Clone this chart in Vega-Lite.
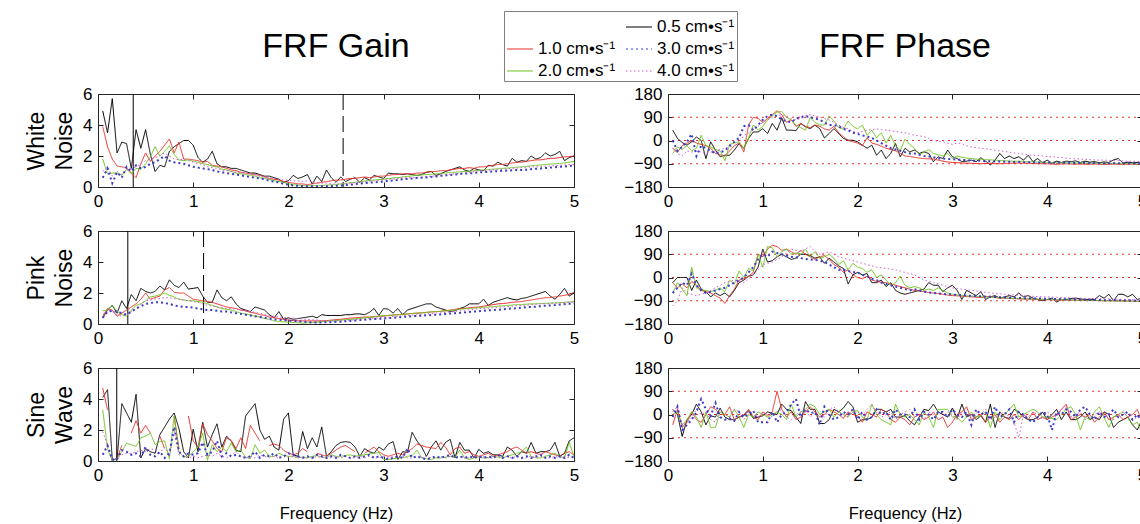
{
"$schema":"https://vega.github.io/schema/vega-lite/v6.json",
"padding":{"left":25,"top":10,"right":0,"bottom":0},
"background":"white",
"config":{
 "font":"Liberation Sans",
 "view":{"stroke":"#262626","strokeWidth":1},
 "axis":{"grid":false,"domain":false,"labelFontSize":17,"labelColor":"#000","tickColor":"#262626","tickSize":-5,"labelPadding":11,"titleFontWeight":"normal","titleColor":"#000","titleFontSize":23,"titleLineHeight":28,"labelFlush":false,"titlePadding":6},
 "axisX":{"titleFontSize":16.5,"titlePadding":22},
 "title":{"fontSize":34,"fontWeight":"normal","color":"#000"}
},
"datasets":{
"wg":[
{"f":0.05,"k":4.9,"r":3.9,"g":1.8,"u":0.6,"m":1.0},
{"f":0.1,"k":3.5,"r":2.6,"g":0.85,"u":1.2,"m":1.3},
{"f":0.15,"k":5.7,"r":1.8,"g":0.9,"u":0.25,"m":0.7},
{"f":0.2,"k":2.2,"r":1.35,"g":0.9,"u":0.95,"m":1.0},
{"f":0.25,"k":2.9,"r":1.3,"g":0.75,"u":0.6,"m":0.8},
{"f":0.3,"k":2.8,"r":1.25,"g":1.15,"u":1.3,"m":1.1},
{"f":0.35,"k":1.2,"r":0.9,"g":0.85,"u":1.0,"m":1.2},
{"f":0.4,"k":3.7,"r":0.6,"g":1.2,"u":1.4,"m":1.3},
{"f":0.45,"k":2.5,"r":1.5,"g":1.15,"u":1.2,"m":1.5},
{"f":0.5,"k":3.7,"r":2.2,"g":1.5,"u":1.3,"m":1.7},
{"f":0.55,"k":2.1,"r":1.65,"g":1.95,"u":1.5,"m":1.8},
{"f":0.6,"k":1.0,"r":2.0,"g":2.6,"u":1.6,"m":1.9},
{"f":0.65,"k":1.4,"r":2.3,"g":2.0,"u":1.8,"m":2.0},
{"f":0.7,"k":1.3,"r":2.7,"g":2.3,"u":2.0,"m":2.2},
{"f":0.75,"k":2.3,"r":3.1,"g":2.65,"u":1.7,"m":2.0},
{"f":0.8,"k":2.6,"r":2.2,"g":2.1,"u":1.6,"m":1.8},
{"f":0.85,"k":2.8,"r":2.9,"g":1.75,"u":1.55,"m":1.75},
{"f":0.9,"k":3.0,"r":1.8,"g":1.7,"u":1.5,"m":1.8},
{"f":0.95,"k":3.0,"r":1.8,"g":1.75,"u":1.4,"m":1.7},
{"f":1,"k":2.7,"r":1.75,"g":1.65,"u":1.3,"m":1.6},
{"f":1.05,"k":1.9,"r":1.7,"g":1.6,"u":1.25,"m":1.5},
{"f":1.1,"k":1.6,"r":1.6,"g":1.5,"u":1.2,"m":1.45},
{"f":1.15,"k":1.8,"r":1.65,"g":1.45,"u":1.15,"m":1.3},
{"f":1.2,"k":2.3,"r":1.4,"g":1.35,"u":1.1,"m":1.25},
{"f":1.25,"k":1.5,"r":1.35,"g":1.3,"u":1.0,"m":1.2},
{"f":1.3,"k":1.3,"r":1.3,"g":1.15,"u":0.95,"m":1.1},
{"f":1.35,"k":1.3,"r":1.2,"g":1.1,"u":0.9,"m":1.05},
{"f":1.4,"k":1.2,"r":1.1,"g":1.0,"u":0.85,"m":1.0},
{"f":1.45,"k":1.2,"r":1.05,"g":0.9,"u":0.8,"m":0.95},
{"f":1.5,"k":1.1,"r":0.95,"g":0.85,"u":0.75,"m":0.9},
{"f":1.55,"k":1.0,"r":0.9,"g":0.8,"u":0.7,"m":0.9},
{"f":1.6,"k":0.9,"r":0.85,"g":0.75,"u":0.65,"m":0.85},
{"f":1.65,"k":0.9,"r":0.8,"g":0.7,"u":0.6,"m":0.8},
{"f":1.7,"k":0.8,"r":0.75,"g":0.6,"u":0.55,"m":0.7},
{"f":1.75,"k":0.7,"r":0.65,"g":0.55,"u":0.5,"m":0.65},
{"f":1.8,"k":0.7,"r":0.55,"g":0.5,"u":0.4,"m":0.6},
{"f":1.85,"k":0.6,"r":0.5,"g":0.4,"u":0.35,"m":0.55},
{"f":1.9,"k":0.5,"r":0.45,"g":0.35,"u":0.3,"m":0.5},
{"f":1.95,"k":0.3,"r":0.35,"g":0.3,"u":0.2,"m":0.45},
{"f":2,"k":0.4,"r":0.3,"g":0.2,"u":0.15,"m":0.45},
{"f":2.05,"k":0.75,"r":0.25,"g":0.15,"u":0.1,"m":0.4},
{"f":2.1,"k":0.55,"r":0.2,"g":0.12,"u":0.08,"m":0.4},
{"f":2.15,"k":0.65,"r":0.2,"g":0.1,"u":0.05,"m":0.35},
{"f":2.2,"k":0.8,"r":0.15,"g":0.08,"u":0.05,"m":0.4},
{"f":2.25,"k":0.2,"r":0.2,"g":0.08,"u":0.05,"m":0.35},
{"f":2.3,"k":0.7,"r":0.25,"g":0.1,"u":0.04,"m":0.3},
{"f":2.35,"k":0.35,"r":0.3,"g":0.1,"u":0.05,"m":0.25},
{"f":2.4,"k":1.1,"r":0.35,"g":0.12,"u":0.05,"m":0.25},
{"f":2.45,"k":0.6,"r":0.4,"g":0.15,"u":0.06,"m":0.2},
{"f":2.5,"k":0.3,"r":0.45,"g":0.15,"u":0.08,"m":0.2},
{"f":2.55,"k":0.65,"r":0.45,"g":0.2,"u":0.1,"m":0.2},
{"f":2.6,"k":0.35,"r":0.5,"g":0.22,"u":0.12,"m":0.22},
{"f":2.65,"k":0.5,"r":0.55,"g":0.28,"u":0.15,"m":0.25},
{"f":2.7,"k":0.6,"r":0.55,"g":0.3,"u":0.18,"m":0.28},
{"f":2.75,"k":0.3,"r":0.6,"g":0.35,"u":0.22,"m":0.3},
{"f":2.8,"k":0.6,"r":0.65,"g":0.38,"u":0.25,"m":0.35},
{"f":2.85,"k":0.45,"r":0.6,"g":0.42,"u":0.28,"m":0.38},
{"f":2.9,"k":0.75,"r":0.65,"g":0.45,"u":0.3,"m":0.4},
{"f":2.95,"k":0.65,"r":0.7,"g":0.48,"u":0.33,"m":0.42},
{"f":3,"k":0.55,"r":0.7,"g":0.5,"u":0.35,"m":0.45},
{"f":3.05,"k":0.9,"r":0.75,"g":0.55,"u":0.4,"m":0.5},
{"f":3.1,"k":0.85,"r":0.8,"g":0.58,"u":0.42,"m":0.52},
{"f":3.15,"k":0.85,"r":0.8,"g":0.6,"u":0.45,"m":0.55},
{"f":3.2,"k":0.8,"r":0.85,"g":0.65,"u":0.5,"m":0.58},
{"f":3.25,"k":0.85,"r":0.85,"g":0.68,"u":0.52,"m":0.6},
{"f":3.3,"k":0.8,"r":0.85,"g":0.72,"u":0.55,"m":0.6},
{"f":3.35,"k":0.75,"r":0.9,"g":0.75,"u":0.58,"m":0.62},
{"f":3.4,"k":0.8,"r":0.9,"g":0.78,"u":0.6,"m":0.65},
{"f":3.45,"k":0.95,"r":0.95,"g":0.8,"u":0.62,"m":0.68},
{"f":3.5,"k":1.0,"r":1.0,"g":0.82,"u":0.65,"m":0.7},
{"f":3.55,"k":0.75,"r":1.0,"g":0.85,"u":0.68,"m":0.72},
{"f":3.6,"k":0.85,"r":1.05,"g":0.88,"u":0.72,"m":0.75},
{"f":3.65,"k":1.0,"r":1.05,"g":0.9,"u":0.75,"m":0.8},
{"f":3.7,"k":1.1,"r":1.1,"g":0.93,"u":0.78,"m":0.82},
{"f":3.75,"k":1.2,"r":1.15,"g":0.95,"u":0.8,"m":0.85},
{"f":3.8,"k":1.3,"r":1.2,"g":0.98,"u":0.85,"m":0.88},
{"f":3.85,"k":1.1,"r":1.2,"g":1.0,"u":0.86,"m":0.9},
{"f":3.9,"k":1.0,"r":1.25,"g":1.02,"u":0.88,"m":0.95},
{"f":3.95,"k":1.2,"r":1.2,"g":1.05,"u":0.9,"m":1.0},
{"f":4,"k":1.1,"r":1.3,"g":1.08,"u":0.95,"m":1.05},
{"f":4.05,"k":1.05,"r":1.3,"g":1.1,"u":0.96,"m":1.05},
{"f":4.1,"k":1.4,"r":1.35,"g":1.12,"u":0.98,"m":1.08},
{"f":4.15,"k":1.35,"r":1.4,"g":1.15,"u":1.0,"m":1.1},
{"f":4.2,"k":1.6,"r":1.45,"g":1.18,"u":1.02,"m":1.12},
{"f":4.25,"k":1.45,"r":1.45,"g":1.2,"u":1.05,"m":1.15},
{"f":4.3,"k":1.35,"r":1.5,"g":1.22,"u":1.06,"m":1.18},
{"f":4.35,"k":1.85,"r":1.55,"g":1.25,"u":1.08,"m":1.2},
{"f":4.4,"k":1.6,"r":1.6,"g":1.28,"u":1.1,"m":1.22},
{"f":4.45,"k":1.7,"r":1.6,"g":1.3,"u":1.1,"m":1.25},
{"f":4.5,"k":1.65,"r":1.65,"g":1.33,"u":1.12,"m":1.28},
{"f":4.55,"k":2.0,"r":1.7,"g":1.36,"u":1.15,"m":1.3},
{"f":4.6,"k":1.8,"r":1.75,"g":1.4,"u":1.18,"m":1.3},
{"f":4.65,"k":1.9,"r":1.75,"g":1.42,"u":1.2,"m":1.32},
{"f":4.7,"k":2.2,"r":1.8,"g":1.45,"u":1.22,"m":1.35},
{"f":4.75,"k":2.0,"r":1.85,"g":1.48,"u":1.25,"m":1.35},
{"f":4.8,"k":2.1,"r":1.85,"g":1.5,"u":1.28,"m":1.38},
{"f":4.85,"k":2.3,"r":1.9,"g":1.52,"u":1.3,"m":1.4},
{"f":4.9,"k":1.7,"r":1.95,"g":1.55,"u":1.32,"m":1.42},
{"f":4.95,"k":1.9,"r":1.95,"g":1.6,"u":1.35,"m":1.45},
{"f":5,"k":2.0,"r":2.0,"g":1.65,"u":1.4,"m":1.45}
],
"wp":[
{"f":0.05,"k":40,"r":-30,"g":-50,"u":0,"m":-30},
{"f":0.1,"k":8,"r":-45,"g":-25,"u":-40,"m":-50},
{"f":0.15,"k":-8,"r":-20,"g":-35,"u":-25,"m":-60},
{"f":0.2,"k":-18,"r":-10,"g":-20,"u":-5,"m":-40},
{"f":0.25,"k":-5,"r":0,"g":-40,"u":25,"m":-45},
{"f":0.3,"k":14,"r":-10,"g":-30,"u":-60,"m":-40},
{"f":0.35,"k":0,"r":-15,"g":20,"u":-20,"m":-45},
{"f":0.4,"k":-70,"r":-20,"g":-20,"u":-30,"m":-50},
{"f":0.45,"k":-5,"r":-30,"g":-25,"u":-40,"m":-45},
{"f":0.5,"k":-37,"r":-50,"g":-35,"u":-50,"m":-40},
{"f":0.55,"k":-63,"r":-55,"g":-40,"u":-45,"m":-35},
{"f":0.6,"k":-57,"r":-60,"g":-78,"u":-40,"m":-30},
{"f":0.65,"k":-57,"r":-40,"g":-15,"u":-20,"m":-25},
{"f":0.7,"k":-37,"r":-20,"g":-10,"u":-5,"m":-20},
{"f":0.75,"k":-12,"r":-10,"g":-5,"u":10,"m":-10},
{"f":0.8,"k":-30,"r":-45,"g":-30,"u":55,"m":20},
{"f":0.85,"k":8,"r":60,"g":10,"u":60,"m":30},
{"f":0.9,"k":33,"r":90,"g":60,"u":40,"m":40},
{"f":0.95,"k":33,"r":85,"g":40,"u":60,"m":55},
{"f":1,"k":46,"r":70,"g":55,"u":80,"m":70},
{"f":1.05,"k":27,"r":85,"g":80,"u":95,"m":80},
{"f":1.1,"k":66,"r":100,"g":95,"u":100,"m":90},
{"f":1.15,"k":40,"r":115,"g":110,"u":95,"m":95},
{"f":1.2,"k":87,"r":100,"g":112,"u":80,"m":100},
{"f":1.25,"k":40,"r":70,"g":90,"u":75,"m":95},
{"f":1.3,"k":40,"r":80,"g":80,"u":70,"m":85},
{"f":1.35,"k":38,"r":55,"g":60,"u":85,"m":80},
{"f":1.4,"k":66,"r":65,"g":50,"u":90,"m":85},
{"f":1.45,"k":53,"r":55,"g":40,"u":95,"m":95},
{"f":1.5,"k":46,"r":50,"g":90,"u":90,"m":100},
{"f":1.55,"k":59,"r":60,"g":70,"u":85,"m":95},
{"f":1.6,"k":46,"r":55,"g":60,"u":80,"m":90},
{"f":1.65,"k":10,"r":45,"g":60,"u":70,"m":85},
{"f":1.7,"k":27,"r":40,"g":95,"u":60,"m":80},
{"f":1.75,"k":46,"r":55,"g":75,"u":60,"m":70},
{"f":1.8,"k":27,"r":30,"g":50,"u":55,"m":60},
{"f":1.85,"k":8,"r":15,"g":45,"u":45,"m":50},
{"f":1.9,"k":1,"r":0,"g":75,"u":40,"m":45},
{"f":1.95,"k":1,"r":-5,"g":55,"u":30,"m":35},
{"f":2,"k":-5,"r":-10,"g":45,"u":25,"m":30},
{"f":2.05,"k":-18,"r":-20,"g":60,"u":20,"m":35},
{"f":2.1,"k":-30,"r":10,"g":20,"u":15,"m":40},
{"f":2.15,"k":-18,"r":-10,"g":40,"u":10,"m":42},
{"f":2.2,"k":-57,"r":-15,"g":10,"u":0,"m":45},
{"f":2.25,"k":-37,"r":-22,"g":30,"u":-10,"m":42},
{"f":2.3,"k":-70,"r":-30,"g":-10,"u":-20,"m":40},
{"f":2.35,"k":-50,"r":-35,"g":20,"u":-30,"m":38},
{"f":2.4,"k":-12,"r":-40,"g":-20,"u":-35,"m":35},
{"f":2.45,"k":-63,"r":-50,"g":-40,"u":-40,"m":32},
{"f":2.5,"k":-30,"r":-60,"g":5,"u":-45,"m":30},
{"f":2.55,"k":-44,"r":-62,"g":-15,"u":-50,"m":25},
{"f":2.6,"k":-37,"r":-65,"g":-30,"u":-50,"m":20},
{"f":2.65,"k":-50,"r":-68,"g":-55,"u":-55,"m":18},
{"f":2.7,"k":-44,"r":-70,"g":-45,"u":-60,"m":15},
{"f":2.75,"k":-50,"r":-71,"g":-35,"u":-62,"m":8},
{"f":2.8,"k":-82,"r":-72,"g":-50,"u":-65,"m":0},
{"f":2.85,"k":-63,"r":-76,"g":-55,"u":-70,"m":-3},
{"f":2.9,"k":-70,"r":-80,"g":-60,"u":-70,"m":-5},
{"f":2.95,"k":-37,"r":-83,"g":-50,"u":-72,"m":-10},
{"f":3,"k":-63,"r":-85,"g":-70,"u":-72,"m":-15},
{"f":3.05,"k":-70,"r":-86,"g":-60,"u":-74,"m":-10},
{"f":3.1,"k":-82,"r":-87,"g":-65,"u":-75,"m":-12},
{"f":3.15,"k":-80,"r":-88,"g":-68,"u":-76,"m":-20},
{"f":3.2,"k":-76,"r":-88,"g":-70,"u":-78,"m":-25},
{"f":3.25,"k":-82,"r":-89,"g":-72,"u":-78,"m":-28},
{"f":3.3,"k":-67,"r":-90,"g":-72,"u":-79,"m":-30},
{"f":3.35,"k":-80,"r":-89,"g":-74,"u":-80,"m":-32},
{"f":3.4,"k":-95,"r":-88,"g":-75,"u":-80,"m":-35},
{"f":3.45,"k":-76,"r":-90,"g":-76,"u":-81,"m":-38},
{"f":3.5,"k":-50,"r":-90,"g":-78,"u":-81,"m":-40},
{"f":3.55,"k":-70,"r":-89,"g":-78,"u":-82,"m":-42},
{"f":3.6,"k":-60,"r":-88,"g":-80,"u":-82,"m":-45},
{"f":3.65,"k":-70,"r":-88,"g":-80,"u":-83,"m":-48},
{"f":3.7,"k":-63,"r":-87,"g":-80,"u":-83,"m":-50},
{"f":3.75,"k":-76,"r":-88,"g":-81,"u":-84,"m":-53},
{"f":3.8,"k":-57,"r":-88,"g":-82,"u":-84,"m":-55},
{"f":3.85,"k":-82,"r":-89,"g":-83,"u":-84,"m":-57},
{"f":3.9,"k":-70,"r":-90,"g":-84,"u":-85,"m":-58},
{"f":3.95,"k":-86,"r":-90,"g":-84,"u":-85,"m":-60},
{"f":4,"k":-76,"r":-90,"g":-85,"u":-85,"m":-62},
{"f":4.05,"k":-88,"r":-91,"g":-85,"u":-86,"m":-63},
{"f":4.1,"k":-80,"r":-92,"g":-86,"u":-86,"m":-65},
{"f":4.15,"k":-85,"r":-91,"g":-86,"u":-86,"m":-66},
{"f":4.2,"k":-80,"r":-90,"g":-86,"u":-86,"m":-68},
{"f":4.25,"k":-82,"r":-91,"g":-87,"u":-87,"m":-70},
{"f":4.3,"k":-79,"r":-92,"g":-87,"u":-87,"m":-71},
{"f":4.35,"k":-85,"r":-91,"g":-87,"u":-87,"m":-72},
{"f":4.4,"k":-80,"r":-92,"g":-88,"u":-87,"m":-73},
{"f":4.45,"k":-84,"r":-92,"g":-87,"u":-87,"m":-74},
{"f":4.5,"k":-82,"r":-91,"g":-88,"u":-87,"m":-75},
{"f":4.55,"k":-86,"r":-92,"g":-88,"u":-88,"m":-76},
{"f":4.6,"k":-83,"r":-93,"g":-88,"u":-88,"m":-76},
{"f":4.65,"k":-85,"r":-92,"g":-89,"u":-88,"m":-77},
{"f":4.7,"k":-75,"r":-91,"g":-88,"u":-88,"m":-78},
{"f":4.75,"k":-70,"r":-92,"g":-89,"u":-88,"m":-78},
{"f":4.8,"k":-88,"r":-93,"g":-90,"u":-88,"m":-79},
{"f":4.85,"k":-84,"r":-92,"g":-89,"u":-89,"m":-80},
{"f":4.9,"k":-86,"r":-92,"g":-90,"u":-89,"m":-80},
{"f":4.95,"k":-85,"r":-93,"g":-90,"u":-89,"m":-81},
{"f":5,"k":-88,"r":-92,"g":-90,"u":-89,"m":-82}
],
"pg":[
{"f":0.05,"k":0.4,"r":0.5,"g":0.85,"u":0.4,"m":0.6},
{"f":0.1,"k":0.9,"r":1.0,"g":0.9,"u":0.8,"m":0.9},
{"f":0.15,"k":1.2,"r":0.9,"g":1.2,"u":0.85,"m":0.8},
{"f":0.2,"k":0.7,"r":0.5,"g":0.8,"u":0.8,"m":0.6},
{"f":0.25,"k":1.5,"r":0.7,"g":0.6,"u":0.7,"m":0.5},
{"f":0.3,"k":1.0,"r":0.9,"g":0.5,"u":0.6,"m":0.6},
{"f":0.35,"k":1.9,"r":1.1,"g":0.9,"u":0.8,"m":0.8},
{"f":0.4,"k":1.5,"r":1.3,"g":1.2,"u":1.0,"m":1.0},
{"f":0.45,"k":2.3,"r":1.6,"g":1.3,"u":1.15,"m":1.3},
{"f":0.5,"k":2.1,"r":2.0,"g":1.5,"u":1.3,"m":1.5},
{"f":0.55,"k":2.0,"r":1.6,"g":1.75,"u":1.35,"m":1.55},
{"f":0.6,"k":2.1,"r":1.7,"g":1.8,"u":1.4,"m":1.6},
{"f":0.65,"k":2.45,"r":1.8,"g":1.9,"u":1.4,"m":1.65},
{"f":0.7,"k":2.2,"r":2.2,"g":2.0,"u":1.35,"m":1.7},
{"f":0.75,"k":2.85,"r":2.35,"g":1.85,"u":1.3,"m":1.7},
{"f":0.8,"k":2.5,"r":2.05,"g":1.75,"u":1.2,"m":1.65},
{"f":0.85,"k":2.35,"r":2.0,"g":1.6,"u":1.15,"m":1.6},
{"f":0.9,"k":2.7,"r":2.0,"g":1.55,"u":1.1,"m":1.55},
{"f":0.95,"k":2.25,"r":1.8,"g":1.5,"u":1.1,"m":1.5},
{"f":1,"k":2.3,"r":1.6,"g":1.5,"u":1.05,"m":1.45},
{"f":1.05,"k":2.35,"r":1.55,"g":1.45,"u":1.0,"m":1.4},
{"f":1.1,"k":1.8,"r":1.5,"g":1.4,"u":0.95,"m":1.3},
{"f":1.15,"k":1.4,"r":1.45,"g":1.3,"u":0.9,"m":1.2},
{"f":1.2,"k":1.4,"r":1.4,"g":1.2,"u":0.9,"m":1.15},
{"f":1.25,"k":2.2,"r":1.3,"g":1.1,"u":0.85,"m":1.1},
{"f":1.3,"k":1.7,"r":1.2,"g":1.0,"u":0.8,"m":1.05},
{"f":1.35,"k":1.5,"r":1.1,"g":0.95,"u":0.8,"m":1.0},
{"f":1.4,"k":1.75,"r":1.05,"g":0.9,"u":0.75,"m":1.0},
{"f":1.45,"k":1.3,"r":1.0,"g":0.8,"u":0.7,"m":0.95},
{"f":1.5,"k":1.0,"r":0.9,"g":0.7,"u":0.65,"m":0.9},
{"f":1.55,"k":0.9,"r":0.85,"g":0.65,"u":0.6,"m":0.85},
{"f":1.6,"k":0.8,"r":0.75,"g":0.6,"u":0.55,"m":0.8},
{"f":1.65,"k":1.1,"r":0.7,"g":0.5,"u":0.5,"m":0.75},
{"f":1.7,"k":1.0,"r":0.6,"g":0.45,"u":0.45,"m":0.7},
{"f":1.75,"k":0.9,"r":0.55,"g":0.35,"u":0.4,"m":0.6},
{"f":1.8,"k":0.6,"r":0.45,"g":0.3,"u":0.35,"m":0.55},
{"f":1.85,"k":0.4,"r":0.4,"g":0.2,"u":0.3,"m":0.5},
{"f":1.9,"k":0.8,"r":0.35,"g":0.15,"u":0.28,"m":0.45},
{"f":1.95,"k":0.3,"r":0.3,"g":0.15,"u":0.25,"m":0.42},
{"f":2,"k":0.4,"r":0.25,"g":0.12,"u":0.22,"m":0.4},
{"f":2.05,"k":0.3,"r":0.22,"g":0.1,"u":0.2,"m":0.38},
{"f":2.1,"k":0.35,"r":0.2,"g":0.08,"u":0.18,"m":0.35},
{"f":2.15,"k":0.4,"r":0.2,"g":0.05,"u":0.15,"m":0.32},
{"f":2.2,"k":0.45,"r":0.2,"g":0.08,"u":0.12,"m":0.3},
{"f":2.25,"k":0.5,"r":0.2,"g":0.1,"u":0.1,"m":0.28},
{"f":2.3,"k":0.4,"r":0.2,"g":0.12,"u":0.1,"m":0.25},
{"f":2.35,"k":0.6,"r":0.2,"g":0.15,"u":0.1,"m":0.22},
{"f":2.4,"k":0.55,"r":0.22,"g":0.18,"u":0.12,"m":0.2},
{"f":2.45,"k":0.55,"r":0.25,"g":0.2,"u":0.12,"m":0.2},
{"f":2.5,"k":0.55,"r":0.28,"g":0.22,"u":0.14,"m":0.2},
{"f":2.55,"k":0.55,"r":0.3,"g":0.25,"u":0.15,"m":0.2},
{"f":2.6,"k":0.6,"r":0.35,"g":0.28,"u":0.18,"m":0.22},
{"f":2.65,"k":0.6,"r":0.38,"g":0.3,"u":0.2,"m":0.25},
{"f":2.7,"k":0.65,"r":0.4,"g":0.33,"u":0.22,"m":0.28},
{"f":2.75,"k":0.65,"r":0.42,"g":0.35,"u":0.25,"m":0.3},
{"f":2.8,"k":0.6,"r":0.45,"g":0.4,"u":0.28,"m":0.32},
{"f":2.85,"k":0.75,"r":0.45,"g":0.42,"u":0.3,"m":0.35},
{"f":2.9,"k":1.0,"r":0.48,"g":0.45,"u":0.32,"m":0.38},
{"f":2.95,"k":0.55,"r":0.5,"g":0.5,"u":0.33,"m":0.4},
{"f":3,"k":1.0,"r":0.5,"g":0.55,"u":0.35,"m":0.42},
{"f":3.05,"k":0.95,"r":0.55,"g":0.55,"u":0.38,"m":0.45},
{"f":3.1,"k":0.7,"r":0.58,"g":0.58,"u":0.4,"m":0.48},
{"f":3.15,"k":1.0,"r":0.6,"g":0.6,"u":0.42,"m":0.5},
{"f":3.2,"k":0.6,"r":0.62,"g":0.62,"u":0.45,"m":0.52},
{"f":3.25,"k":0.9,"r":0.65,"g":0.65,"u":0.48,"m":0.55},
{"f":3.3,"k":1.0,"r":0.68,"g":0.68,"u":0.5,"m":0.58},
{"f":3.35,"k":1.1,"r":0.7,"g":0.7,"u":0.52,"m":0.6},
{"f":3.4,"k":1.2,"r":0.72,"g":0.72,"u":0.54,"m":0.62},
{"f":3.45,"k":1.3,"r":0.75,"g":0.75,"u":0.56,"m":0.65},
{"f":3.5,"k":1.3,"r":0.78,"g":0.78,"u":0.58,"m":0.68},
{"f":3.55,"k":1.1,"r":0.8,"g":0.8,"u":0.6,"m":0.7},
{"f":3.6,"k":1.0,"r":0.82,"g":0.82,"u":0.62,"m":0.72},
{"f":3.65,"k":0.9,"r":0.85,"g":0.85,"u":0.65,"m":0.75},
{"f":3.7,"k":0.8,"r":0.9,"g":0.88,"u":0.68,"m":0.78},
{"f":3.75,"k":0.85,"r":0.95,"g":0.9,"u":0.7,"m":0.82},
{"f":3.8,"k":1.0,"r":1.0,"g":0.95,"u":0.72,"m":0.85},
{"f":3.85,"k":1.1,"r":1.0,"g":0.98,"u":0.75,"m":0.88},
{"f":3.9,"k":1.3,"r":1.05,"g":1.0,"u":0.78,"m":0.9},
{"f":3.95,"k":1.3,"r":1.08,"g":1.02,"u":0.8,"m":0.95},
{"f":4,"k":1.3,"r":1.1,"g":1.05,"u":0.82,"m":1.0},
{"f":4.05,"k":1.6,"r":1.15,"g":1.08,"u":0.85,"m":1.0},
{"f":4.1,"k":1.2,"r":1.2,"g":1.1,"u":0.88,"m":1.02},
{"f":4.15,"k":1.4,"r":1.25,"g":1.12,"u":0.9,"m":1.05},
{"f":4.2,"k":1.5,"r":1.3,"g":1.15,"u":0.92,"m":1.08},
{"f":4.25,"k":1.6,"r":1.32,"g":1.18,"u":0.95,"m":1.1},
{"f":4.3,"k":1.7,"r":1.35,"g":1.2,"u":0.98,"m":1.12},
{"f":4.35,"k":1.6,"r":1.4,"g":1.22,"u":1.0,"m":1.15},
{"f":4.4,"k":1.55,"r":1.42,"g":1.25,"u":1.02,"m":1.18},
{"f":4.45,"k":1.65,"r":1.45,"g":1.25,"u":1.05,"m":1.2},
{"f":4.5,"k":1.7,"r":1.5,"g":1.28,"u":1.08,"m":1.22},
{"f":4.55,"k":1.8,"r":1.55,"g":1.3,"u":1.1,"m":1.25},
{"f":4.6,"k":1.9,"r":1.6,"g":1.3,"u":1.12,"m":1.28},
{"f":4.65,"k":2.0,"r":1.65,"g":1.32,"u":1.15,"m":1.3},
{"f":4.7,"k":2.1,"r":1.7,"g":1.33,"u":1.18,"m":1.3},
{"f":4.75,"k":1.8,"r":1.7,"g":1.35,"u":1.2,"m":1.32},
{"f":4.8,"k":1.6,"r":1.75,"g":1.35,"u":1.22,"m":1.35},
{"f":4.85,"k":1.9,"r":1.8,"g":1.38,"u":1.25,"m":1.35},
{"f":4.9,"k":2.3,"r":1.85,"g":1.4,"u":1.28,"m":1.38},
{"f":4.95,"k":1.8,"r":1.9,"g":1.42,"u":1.3,"m":1.4},
{"f":5,"k":2.0,"r":2.05,"g":1.45,"u":1.32,"m":1.4}
],
"pp":[
{"f":0.05,"k":-20,"r":-20,"g":-60,"u":-60,"m":-110},
{"f":0.1,"k":0,"r":-40,"g":-20,"u":-40,"m":-90},
{"f":0.15,"k":0,"r":-25,"g":-45,"u":-20,"m":-40},
{"f":0.2,"k":0,"r":-40,"g":-70,"u":-30,"m":-60},
{"f":0.25,"k":-50,"r":-15,"g":40,"u":15,"m":-65},
{"f":0.3,"k":-10,"r":-30,"g":-40,"u":-30,"m":-70},
{"f":0.35,"k":-45,"r":-50,"g":-50,"u":-50,"m":-65},
{"f":0.4,"k":-55,"r":-55,"g":-50,"u":-60,"m":-60},
{"f":0.45,"k":-75,"r":-60,"g":-55,"u":-55,"m":-50},
{"f":0.5,"k":-60,"r":-70,"g":-50,"u":-50,"m":-40},
{"f":0.55,"k":-70,"r":-80,"g":-40,"u":-45,"m":-30},
{"f":0.6,"k":-60,"r":-100,"g":-55,"u":-40,"m":-20},
{"f":0.65,"k":-75,"r":-70,"g":-10,"u":-30,"m":-15},
{"f":0.7,"k":-50,"r":-45,"g":-25,"u":-20,"m":-10},
{"f":0.75,"k":-20,"r":-10,"g":25,"u":-10,"m":-15},
{"f":0.8,"k":-10,"r":-5,"g":0,"u":0,"m":-20},
{"f":0.85,"k":5,"r":5,"g":35,"u":20,"m":-5},
{"f":0.9,"k":10,"r":20,"g":25,"u":40,"m":10},
{"f":0.95,"k":40,"r":90,"g":90,"u":70,"m":30},
{"f":1,"k":110,"r":80,"g":40,"u":90,"m":50},
{"f":1.05,"k":60,"r":110,"g":120,"u":80,"m":55},
{"f":1.1,"k":65,"r":125,"g":115,"u":100,"m":60},
{"f":1.15,"k":80,"r":120,"g":80,"u":95,"m":70},
{"f":1.2,"k":90,"r":105,"g":100,"u":90,"m":80},
{"f":1.25,"k":80,"r":110,"g":110,"u":85,"m":95},
{"f":1.3,"k":70,"r":100,"g":90,"u":80,"m":110},
{"f":1.35,"k":75,"r":90,"g":95,"u":78,"m":105},
{"f":1.4,"k":90,"r":105,"g":90,"u":75,"m":100},
{"f":1.45,"k":90,"r":90,"g":110,"u":72,"m":110},
{"f":1.5,"k":85,"r":80,"g":80,"u":70,"m":120},
{"f":1.55,"k":75,"r":70,"g":100,"u":68,"m":100},
{"f":1.6,"k":80,"r":80,"g":75,"u":65,"m":90},
{"f":1.65,"k":55,"r":85,"g":80,"u":60,"m":95},
{"f":1.7,"k":75,"r":70,"g":90,"u":50,"m":100},
{"f":1.75,"k":60,"r":50,"g":75,"u":40,"m":90},
{"f":1.8,"k":45,"r":40,"g":50,"u":30,"m":80},
{"f":1.85,"k":35,"r":20,"g":65,"u":30,"m":75},
{"f":1.9,"k":-25,"r":30,"g":30,"u":25,"m":70},
{"f":1.95,"k":10,"r":10,"g":55,"u":20,"m":65},
{"f":2,"k":20,"r":0,"g":40,"u":20,"m":60},
{"f":2.05,"k":10,"r":-5,"g":35,"u":10,"m":55},
{"f":2.1,"k":15,"r":5,"g":20,"u":5,"m":50},
{"f":2.15,"k":-20,"r":-10,"g":30,"u":-5,"m":45},
{"f":2.2,"k":-20,"r":-15,"g":0,"u":-10,"m":40},
{"f":2.25,"k":-10,"r":-18,"g":10,"u":-20,"m":38},
{"f":2.3,"k":-35,"r":-20,"g":-10,"u":-25,"m":35},
{"f":2.35,"k":-20,"r":-25,"g":-30,"u":-30,"m":32},
{"f":2.4,"k":-50,"r":-30,"g":-20,"u":-35,"m":30},
{"f":2.45,"k":-60,"r":-35,"g":5,"u":-40,"m":25},
{"f":2.5,"k":-65,"r":-40,"g":-30,"u":-45,"m":20},
{"f":2.55,"k":-60,"r":-45,"g":-40,"u":-50,"m":15},
{"f":2.6,"k":-55,"r":-50,"g":-35,"u":-45,"m":10},
{"f":2.65,"k":-50,"r":-52,"g":-40,"u":-50,"m":0},
{"f":2.7,"k":-45,"r":-55,"g":-50,"u":-55,"m":-10},
{"f":2.75,"k":-20,"r":-58,"g":-45,"u":-58,"m":-15},
{"f":2.8,"k":-30,"r":-60,"g":-50,"u":-60,"m":-20},
{"f":2.85,"k":-30,"r":-62,"g":-40,"u":-62,"m":-25},
{"f":2.9,"k":-55,"r":-65,"g":-50,"u":-64,"m":-30},
{"f":2.95,"k":-40,"r":-68,"g":-60,"u":-65,"m":-35},
{"f":3,"k":-30,"r":-70,"g":-65,"u":-66,"m":-40},
{"f":3.05,"k":-50,"r":-71,"g":-67,"u":-67,"m":-42},
{"f":3.1,"k":-85,"r":-72,"g":-70,"u":-68,"m":-45},
{"f":3.15,"k":-50,"r":-74,"g":-71,"u":-70,"m":-48},
{"f":3.2,"k":-60,"r":-75,"g":-72,"u":-71,"m":-50},
{"f":3.25,"k":-70,"r":-76,"g":-73,"u":-72,"m":-52},
{"f":3.3,"k":-55,"r":-78,"g":-75,"u":-73,"m":-55},
{"f":3.35,"k":-85,"r":-75,"g":-75,"u":-74,"m":-58},
{"f":3.4,"k":-75,"r":-72,"g":-76,"u":-75,"m":-60},
{"f":3.45,"k":-70,"r":-78,"g":-77,"u":-75,"m":-62},
{"f":3.5,"k":-80,"r":-80,"g":-78,"u":-76,"m":-63},
{"f":3.55,"k":-75,"r":-80,"g":-79,"u":-77,"m":-65},
{"f":3.6,"k":-70,"r":-81,"g":-80,"u":-78,"m":-66},
{"f":3.65,"k":-75,"r":-82,"g":-80,"u":-78,"m":-68},
{"f":3.7,"k":-60,"r":-83,"g":-81,"u":-79,"m":-70},
{"f":3.75,"k":-75,"r":-84,"g":-82,"u":-80,"m":-71},
{"f":3.8,"k":-70,"r":-84,"g":-82,"u":-80,"m":-72},
{"f":3.85,"k":-80,"r":-85,"g":-83,"u":-81,"m":-73},
{"f":3.9,"k":-85,"r":-85,"g":-84,"u":-81,"m":-74},
{"f":3.95,"k":-90,"r":-86,"g":-84,"u":-82,"m":-75},
{"f":4,"k":-85,"r":-86,"g":-85,"u":-82,"m":-75},
{"f":4.05,"k":-80,"r":-86,"g":-85,"u":-83,"m":-76},
{"f":4.1,"k":-95,"r":-87,"g":-86,"u":-83,"m":-77},
{"f":4.15,"k":-85,"r":-87,"g":-86,"u":-84,"m":-78},
{"f":4.2,"k":-85,"r":-88,"g":-87,"u":-84,"m":-78},
{"f":4.25,"k":-82,"r":-88,"g":-87,"u":-85,"m":-79},
{"f":4.3,"k":-80,"r":-88,"g":-88,"u":-85,"m":-80},
{"f":4.35,"k":-83,"r":-88,"g":-88,"u":-86,"m":-80},
{"f":4.4,"k":-85,"r":-89,"g":-88,"u":-86,"m":-81},
{"f":4.45,"k":-84,"r":-89,"g":-89,"u":-87,"m":-81},
{"f":4.5,"k":-85,"r":-89,"g":-89,"u":-87,"m":-82},
{"f":4.55,"k":-70,"r":-90,"g":-89,"u":-87,"m":-82},
{"f":4.6,"k":-80,"r":-90,"g":-90,"u":-88,"m":-83},
{"f":4.65,"k":-65,"r":-90,"g":-90,"u":-88,"m":-83},
{"f":4.7,"k":-90,"r":-90,"g":-90,"u":-88,"m":-84},
{"f":4.75,"k":-65,"r":-90,"g":-91,"u":-88,"m":-84},
{"f":4.8,"k":-65,"r":-91,"g":-91,"u":-89,"m":-85},
{"f":4.85,"k":-75,"r":-91,"g":-91,"u":-89,"m":-85},
{"f":4.9,"k":-65,"r":-91,"g":-92,"u":-89,"m":-85},
{"f":4.95,"k":-85,"r":-92,"g":-92,"u":-90,"m":-86},
{"f":5,"k":-80,"r":-92,"g":-92,"u":-90,"m":-86}
],
"sg":[
{"f":0.05,"k":4.1,"r":4.7,"g":3.3,"u":0.4,"m":1.9},
{"f":0.1,"k":4.6,"r":3.3,"g":0.8,"u":1.0,"m":1.0},
{"f":0.15,"k":0.1,"r":null,"g":0.0,"u":0.1,"m":0.1},
{"f":0.2,"k":0.1,"r":0.15,"g":0.15,"u":0.1,"m":0.2},
{"f":0.25,"k":3.7,"r":1.0,"g":0.6,"u":0.7,"m":0.4},
{"f":0.3,"k":3.1,"r":null,"g":1.15,"u":0.6,"m":0.5},
{"f":0.35,"k":2.5,"r":1.8,"g":1.05,"u":0.4,"m":0.5},
{"f":0.4,"k":4.3,"r":2.6,"g":0.95,"u":0.5,"m":0.6},
{"f":0.45,"k":0.2,"r":1.8,"g":1.5,"u":0.3,"m":0.7},
{"f":0.5,"k":0.8,"r":2.3,"g":1.6,"u":0.9,"m":0.6},
{"f":0.55,"k":0.6,"r":1.8,"g":1.8,"u":0.4,"m":0.8},
{"f":0.6,"k":0.5,"r":null,"g":1.05,"u":0.3,"m":0.7},
{"f":0.65,"k":1.7,"r":1.6,"g":1.25,"u":0.6,"m":0.5},
{"f":0.7,"k":2.2,"r":0.8,"g":1.3,"u":0.2,"m":0.9},
{"f":0.75,"k":2.7,"r":null,"g":0.15,"u":0.5,"m":0.3},
{"f":0.8,"k":3.1,"r":2.9,"g":2.9,"u":2.2,"m":1.9},
{"f":0.85,"k":2.1,"r":0.8,"g":0.6,"u":0.6,"m":0.4},
{"f":0.9,"k":0.6,"r":null,"g":0.25,"u":0.3,"m":0.3},
{"f":0.95,"k":0.2,"r":2.9,"g":0.3,"u":0.5,"m":0.2},
{"f":1,"k":2.05,"r":1.3,"g":0.6,"u":0.4,"m":0.3},
{"f":1.05,"k":0.6,"r":0.9,"g":0.9,"u":0.5,"m":0.2},
{"f":1.1,"k":2.5,"r":2.4,"g":1.8,"u":1.2,"m":0.3},
{"f":1.15,"k":0.9,"r":1.7,"g":0.05,"u":0.4,"m":0.4},
{"f":1.2,"k":1.7,"r":1.3,"g":1.05,"u":0.6,"m":0.3},
{"f":1.25,"k":2.4,"r":0.8,"g":0.6,"u":1.3,"m":0.5},
{"f":1.3,"k":0.9,"r":0.6,"g":0.9,"u":0.3,"m":0.3},
{"f":1.35,"k":1.6,"r":1.5,"g":0.6,"u":0.5,"m":0.2},
{"f":1.4,"k":1.3,"r":1.3,"g":1.15,"u":0.3,"m":0.4},
{"f":1.45,"k":0.7,"r":0.8,"g":0.6,"u":0.4,"m":0.6},
{"f":1.5,"k":0.6,"r":1.5,"g":0.7,"u":0.3,"m":0.3},
{"f":1.55,"k":2.9,"r":0.8,"g":0.25,"u":0.2,"m":0.2},
{"f":1.6,"k":3.3,"r":2.3,"g":0.15,"u":0.3,"m":0.3},
{"f":1.65,"k":3.7,"r":1.8,"g":1.05,"u":0.6,"m":0.2},
{"f":1.7,"k":2.0,"r":1.3,"g":0.5,"u":0.2,"m":0.4},
{"f":1.75,"k":1.4,"r":null,"g":0.7,"u":0.4,"m":0.3},
{"f":1.8,"k":1.6,"r":1.0,"g":0.3,"u":0.3,"m":0.2},
{"f":1.85,"k":0.9,"r":1.1,"g":0.3,"u":0.5,"m":0.3},
{"f":1.9,"k":0.7,"r":1.0,"g":0.5,"u":0.2,"m":0.2},
{"f":1.95,"k":2.7,"r":0.7,"g":0.35,"u":0.3,"m":0.3},
{"f":2,"k":3.1,"r":0.5,"g":0.3,"u":0.5,"m":0.2},
{"f":2.05,"k":0.4,"r":0.4,"g":0.3,"u":0.4,"m":0.3},
{"f":2.1,"k":0.3,"r":0.5,"g":0.2,"u":0.3,"m":0.2},
{"f":2.15,"k":1.9,"r":0.8,"g":0.25,"u":0.2,"m":0.3},
{"f":2.2,"k":0.8,"r":0.6,"g":0.2,"u":0.3,"m":0.2},
{"f":2.25,"k":1.5,"r":null,"g":0.3,"u":0.2,"m":0.2},
{"f":2.3,"k":0.9,"r":0.5,"g":0.35,"u":0.4,"m":0.3},
{"f":2.35,"k":2.2,"r":0.4,"g":0.25,"u":0.3,"m":0.2},
{"f":2.4,"k":0.3,"r":0.3,"g":0.2,"u":0.2,"m":0.3},
{"f":2.45,"k":0.6,"r":0.5,"g":0.4,"u":0.3,"m":0.2},
{"f":2.5,"k":1.0,"r":0.7,"g":0.3,"u":0.2,"m":0.3},
{"f":2.55,"k":1.2,"r":0.9,"g":0.3,"u":0.4,"m":0.2},
{"f":2.6,"k":1.25,"r":1.0,"g":0.35,"u":0.3,"m":0.3},
{"f":2.65,"k":1.2,"r":0.8,"g":0.4,"u":0.2,"m":0.2},
{"f":2.7,"k":0.9,"r":0.6,"g":0.3,"u":0.3,"m":0.2},
{"f":2.75,"k":0.3,"r":null,"g":0.35,"u":0.2,"m":0.3},
{"f":2.8,"k":0.8,"r":0.5,"g":0.4,"u":0.3,"m":0.2},
{"f":2.85,"k":0.6,"r":0.7,"g":0.45,"u":0.4,"m":0.3},
{"f":2.9,"k":0.5,"r":0.9,"g":0.5,"u":0.2,"m":0.2},
{"f":2.95,"k":0.9,"r":0.6,"g":0.55,"u":0.3,"m":0.2},
{"f":3,"k":0.7,"r":0.4,"g":0.1,"u":0.2,"m":0.3},
{"f":3.05,"k":1.1,"r":0.3,"g":0.1,"u":0.1,"m":0.2},
{"f":3.1,"k":1.25,"r":0.4,"g":0.15,"u":0.2,"m":0.3},
{"f":3.15,"k":0.1,"r":0.5,"g":0.2,"u":0.3,"m":0.2},
{"f":3.2,"k":0.6,"r":0.4,"g":0.2,"u":0.2,"m":0.3},
{"f":3.25,"k":0.55,"r":0.6,"g":0.3,"u":0.8,"m":0.2},
{"f":3.3,"k":1.85,"r":0.8,"g":0.35,"u":0.2,"m":0.2},
{"f":3.35,"k":1.3,"r":1.1,"g":0.7,"u":0.3,"m":0.3},
{"f":3.4,"k":0.9,"r":1.0,"g":0.2,"u":0.2,"m":0.2},
{"f":3.45,"k":0.3,"r":0.9,"g":0.15,"u":0.1,"m":0.3},
{"f":3.5,"k":0.9,"r":0.85,"g":0.1,"u":0.2,"m":0.2},
{"f":3.55,"k":1.3,"r":0.8,"g":0.2,"u":0.3,"m":0.2},
{"f":3.6,"k":0.7,"r":1.2,"g":0.2,"u":0.2,"m":0.3},
{"f":3.65,"k":1.2,"r":0.9,"g":0.25,"u":0.3,"m":0.2},
{"f":3.7,"k":1.4,"r":0.4,"g":0.3,"u":0.4,"m":0.3},
{"f":3.75,"k":0.2,"r":0.8,"g":0.25,"u":0.2,"m":0.2},
{"f":3.8,"k":1.2,"r":0.9,"g":0.7,"u":0.3,"m":0.3},
{"f":3.85,"k":0.7,"r":0.5,"g":0.2,"u":0.2,"m":0.2},
{"f":3.9,"k":0.7,"r":0.6,"g":0.1,"u":0.3,"m":0.2},
{"f":3.95,"k":0.2,"r":0.4,"g":0.2,"u":0.2,"m":0.3},
{"f":4,"k":0.75,"r":0.3,"g":0.25,"u":0.3,"m":0.2},
{"f":4.05,"k":0.5,"r":0.4,"g":0.2,"u":0.2,"m":0.3},
{"f":4.1,"k":0.6,"r":0.5,"g":0.2,"u":0.3,"m":0.2},
{"f":4.15,"k":0.4,"r":0.3,"g":0.3,"u":0.2,"m":0.2},
{"f":4.2,"k":0.4,"r":0.4,"g":0.25,"u":0.4,"m":0.3},
{"f":4.25,"k":0.3,"r":0.5,"g":0.2,"u":0.2,"m":0.2},
{"f":4.3,"k":0.9,"r":0.6,"g":0.3,"u":0.3,"m":0.3},
{"f":4.35,"k":0.7,"r":0.8,"g":0.4,"u":0.2,"m":0.2},
{"f":4.4,"k":0.3,"r":0.9,"g":0.5,"u":0.3,"m":0.3},
{"f":4.45,"k":0.6,"r":0.7,"g":0.6,"u":0.2,"m":0.2},
{"f":4.5,"k":0.5,"r":0.5,"g":0.9,"u":0.3,"m":0.2},
{"f":4.55,"k":1.2,"r":0.6,"g":0.3,"u":0.2,"m":0.3},
{"f":4.6,"k":0.5,"r":0.5,"g":0.2,"u":0.3,"m":0.2},
{"f":4.65,"k":0.6,"r":0.4,"g":0.2,"u":0.4,"m":0.3},
{"f":4.7,"k":0.6,"r":0.6,"g":0.3,"u":0.2,"m":0.2},
{"f":4.75,"k":0.7,"r":0.5,"g":0.4,"u":0.3,"m":0.2},
{"f":4.8,"k":1.2,"r":0.4,"g":0.5,"u":0.2,"m":0.3},
{"f":4.85,"k":0.3,"r":0.3,"g":0.3,"u":0.3,"m":0.2},
{"f":4.9,"k":0.5,"r":0.5,"g":0.2,"u":0.2,"m":0.3},
{"f":4.95,"k":1.3,"r":0.6,"g":1.2,"u":0.4,"m":0.2},
{"f":5,"k":1.5,"r":0.4,"g":0.3,"u":0.2,"m":0.3}
],
"sp":[
{"f":0.05,"k":20,"r":-40,"g":0,"u":-10,"m":10},
{"f":0.1,"k":0,"r":20,"g":10,"u":30,"m":30},
{"f":0.15,"k":-85,"r":-50,"g":-40,"u":-60,"m":-40},
{"f":0.2,"k":-20,"r":-30,"g":-20,"u":-40,"m":-30},
{"f":0.25,"k":0,"r":10,"g":10,"u":-20,"m":-10},
{"f":0.3,"k":40,"r":-20,"g":-10,"u":10,"m":20},
{"f":0.35,"k":10,"r":-30,"g":-50,"u":60,"m":0},
{"f":0.4,"k":-40,"r":0,"g":10,"u":20,"m":10},
{"f":0.45,"k":-5,"r":30,"g":-50,"u":-5,"m":-20},
{"f":0.5,"k":-10,"r":20,"g":-50,"u":45,"m":-30},
{"f":0.55,"k":25,"r":0,"g":10,"u":-10,"m":20},
{"f":0.6,"k":-10,"r":0,"g":0,"u":-20,"m":0},
{"f":0.65,"k":-20,"r":30,"g":-10,"u":-15,"m":-10},
{"f":0.7,"k":-20,"r":-20,"g":20,"u":-25,"m":20},
{"f":0.75,"k":-10,"r":-10,"g":-10,"u":10,"m":10},
{"f":0.8,"k":-5,"r":0,"g":-50,"u":-10,"m":-20},
{"f":0.85,"k":15,"r":20,"g":0,"u":0,"m":10},
{"f":0.9,"k":-15,"r":-10,"g":-10,"u":15,"m":0},
{"f":0.95,"k":-10,"r":-20,"g":10,"u":-30,"m":-10},
{"f":1,"k":-5,"r":10,"g":0,"u":-30,"m":10},
{"f":1.05,"k":10,"r":-5,"g":-10,"u":-30,"m":0},
{"f":1.1,"k":5,"r":10,"g":0,"u":10,"m":-10},
{"f":1.15,"k":0,"r":90,"g":10,"u":-30,"m":10},
{"f":1.2,"k":40,"r":20,"g":0,"u":0,"m":20},
{"f":1.25,"k":20,"r":-10,"g":-20,"u":10,"m":-10},
{"f":1.3,"k":15,"r":10,"g":40,"u":40,"m":-20},
{"f":1.35,"k":-10,"r":-20,"g":-10,"u":60,"m":0},
{"f":1.4,"k":-35,"r":-10,"g":10,"u":-10,"m":10},
{"f":1.45,"k":50,"r":10,"g":20,"u":20,"m":20},
{"f":1.5,"k":20,"r":30,"g":40,"u":5,"m":-10},
{"f":1.55,"k":20,"r":10,"g":30,"u":10,"m":10},
{"f":1.6,"k":-35,"r":-10,"g":0,"u":-40,"m":0},
{"f":1.65,"k":-35,"r":0,"g":10,"u":30,"m":-10},
{"f":1.7,"k":-20,"r":20,"g":20,"u":0,"m":20},
{"f":1.75,"k":20,"r":10,"g":-10,"u":-20,"m":30},
{"f":1.8,"k":10,"r":0,"g":10,"u":-10,"m":10},
{"f":1.85,"k":25,"r":-15,"g":0,"u":10,"m":0},
{"f":1.9,"k":50,"r":10,"g":-10,"u":0,"m":-10},
{"f":1.95,"k":30,"r":0,"g":10,"u":20,"m":20},
{"f":2,"k":-30,"r":-5,"g":15,"u":-20,"m":10},
{"f":2.05,"k":-20,"r":-30,"g":-10,"u":10,"m":0},
{"f":2.1,"k":-20,"r":10,"g":-20,"u":-20,"m":20},
{"f":2.15,"k":-10,"r":0,"g":40,"u":-10,"m":40},
{"f":2.2,"k":20,"r":-10,"g":0,"u":20,"m":10},
{"f":2.25,"k":20,"r":20,"g":-20,"u":0,"m":-10},
{"f":2.3,"k":10,"r":10,"g":-30,"u":10,"m":0},
{"f":2.35,"k":20,"r":-20,"g":-40,"u":-20,"m":10},
{"f":2.4,"k":-10,"r":-30,"g":40,"u":20,"m":-20},
{"f":2.45,"k":-10,"r":-10,"g":0,"u":0,"m":0},
{"f":2.5,"k":-5,"r":-20,"g":-10,"u":0,"m":10},
{"f":2.55,"k":-25,"r":-40,"g":0,"u":-10,"m":20},
{"f":2.6,"k":-40,"r":-10,"g":-20,"u":20,"m":-10},
{"f":2.65,"k":-10,"r":0,"g":-40,"u":-20,"m":0},
{"f":2.7,"k":20,"r":-20,"g":10,"u":10,"m":-20},
{"f":2.75,"k":15,"r":-10,"g":-10,"u":0,"m":10},
{"f":2.8,"k":40,"r":10,"g":-50,"u":-20,"m":0},
{"f":2.85,"k":10,"r":-20,"g":20,"u":10,"m":-20},
{"f":2.9,"k":0,"r":-10,"g":20,"u":10,"m":-10},
{"f":2.95,"k":-10,"r":-50,"g":20,"u":-10,"m":10},
{"f":3,"k":25,"r":-30,"g":-10,"u":20,"m":0},
{"f":3.05,"k":-15,"r":0,"g":-10,"u":0,"m":-20},
{"f":3.1,"k":40,"r":10,"g":-30,"u":-10,"m":10},
{"f":3.15,"k":-10,"r":30,"g":-10,"u":10,"m":0},
{"f":3.2,"k":0,"r":-20,"g":10,"u":-40,"m":-10},
{"f":3.25,"k":-20,"r":-10,"g":-10,"u":20,"m":10},
{"f":3.3,"k":-5,"r":0,"g":-5,"u":0,"m":0},
{"f":3.35,"k":-30,"r":-30,"g":10,"u":10,"m":20},
{"f":3.4,"k":40,"r":-10,"g":-50,"u":-20,"m":-20},
{"f":3.45,"k":-50,"r":0,"g":10,"u":30,"m":-10},
{"f":3.5,"k":10,"r":-30,"g":-20,"u":-10,"m":0},
{"f":3.55,"k":-10,"r":-10,"g":0,"u":0,"m":10},
{"f":3.6,"k":-15,"r":-20,"g":20,"u":20,"m":-10},
{"f":3.65,"k":20,"r":0,"g":40,"u":-30,"m":-30},
{"f":3.7,"k":10,"r":-20,"g":-10,"u":10,"m":-90},
{"f":3.75,"k":-10,"r":0,"g":0,"u":0,"m":0},
{"f":3.8,"k":-20,"r":-20,"g":10,"u":-20,"m":-10},
{"f":3.85,"k":-20,"r":10,"g":20,"u":-30,"m":10},
{"f":3.9,"k":-10,"r":-20,"g":10,"u":-10,"m":0},
{"f":3.95,"k":10,"r":-10,"g":-10,"u":10,"m":-20},
{"f":4,"k":-20,"r":-20,"g":-10,"u":0,"m":10},
{"f":4.05,"k":0,"r":-10,"g":-15,"u":-60,"m":0},
{"f":4.1,"k":20,"r":0,"g":-20,"u":10,"m":-10},
{"f":4.15,"k":-20,"r":20,"g":0,"u":0,"m":20},
{"f":4.2,"k":10,"r":40,"g":20,"u":20,"m":30},
{"f":4.25,"k":-20,"r":-20,"g":30,"u":10,"m":-10},
{"f":4.3,"k":-20,"r":-10,"g":0,"u":-10,"m":0},
{"f":4.35,"k":-10,"r":0,"g":-60,"u":20,"m":10},
{"f":4.4,"k":10,"r":-10,"g":-10,"u":30,"m":-20},
{"f":4.45,"k":-20,"r":0,"g":-20,"u":0,"m":-10},
{"f":4.5,"k":-10,"r":-30,"g":10,"u":-20,"m":0},
{"f":4.55,"k":-20,"r":-10,"g":30,"u":10,"m":10},
{"f":4.6,"k":10,"r":10,"g":-10,"u":-10,"m":0},
{"f":4.65,"k":0,"r":-20,"g":-50,"u":0,"m":-10},
{"f":4.7,"k":-50,"r":-10,"g":-10,"u":20,"m":-20},
{"f":4.75,"k":-30,"r":0,"g":0,"u":-10,"m":0},
{"f":4.8,"k":-20,"r":-20,"g":10,"u":0,"m":10},
{"f":4.85,"k":-10,"r":-10,"g":-10,"u":10,"m":-10},
{"f":4.9,"k":-40,"r":0,"g":-40,"u":-20,"m":-20},
{"f":4.95,"k":-60,"r":20,"g":-30,"u":0,"m":-10},
{"f":5,"k":-20,"r":-30,"g":-70,"u":-30,"m":-10}
]
},
"concat":[
{"width":476,"height":93,
 "title":{"text":"FRF Gain","offset":-6,"baseline":"alphabetic","frame":"group"},
 "layer":[
  {"data":{"values":[{"f":0.37}]},"mark":{"type":"rule","color":"#000","strokeWidth":1},"encoding":{"x":{"field":"f","type":"quantitative","axis":null}}},
  {"data":{"values":[{"f":2.575}]},"mark":{"type":"rule","color":"#000","strokeWidth":1,"strokeDash":[16,6]},"encoding":{"x":{"field":"f","type":"quantitative","axis":null}}},
  {"data":{"name":"wg"},"transform":[{"fold":["k","r","g","m"],"as":["s","v"]}],"mark":{"type":"line","strokeWidth":1,"clip":true},
   "encoding":{
    "x":{"field":"f","type":"quantitative","scale":{"domain":[0,5],"nice":false},"axis":{"values":[0,1,2,3,4,5],"title":null}},
    "y":{"field":"v","type":"quantitative","scale":{"domain":[0,6],"nice":false},"axis":{"values":[0,2,4,6],"title":["White","Noise"]}},
    "color":{"field":"s","type":"nominal","scale":{"domain":["z","r","g","k","u","m"],"range":["rgba(0,0,0,0)","#e8302a","#6cc51c","#000000","#3c3cc8","#d45bd4"]},
     "legend":{"orient":"none","legendX":406,"legendY":-83,"columns":2,"title":null,"symbolType":"stroke","symbolSize":676,"symbolStrokeWidth":1.2,"labelFontSize":17,"labelColor":"#000","labelOffset":4,"strokeColor":"#808080","fillColor":"#ffffff","padding":2,"rowPadding":-5,"columnPadding":7,
      "labelExpr":"datum.value=='k'?'0.5 cm•s⁻¹':datum.value=='r'?'1.0 cm•s⁻¹':datum.value=='g'?'2.0 cm•s⁻¹':datum.value=='u'?'3.0 cm•s⁻¹':datum.value=='m'?'4.0 cm•s⁻¹':''"}},
    "strokeDash":{"field":"s","type":"nominal","scale":{"domain":["z","r","g","k","u","m"],"range":[[1,0],[1,0],[1,0],[1,0],[2,3],[1.5,2.5]]}}
   }},
  {"data":{"name":"wg"},"transform":[{"fold":["u"],"as":["s","v"]}],"mark":{"type":"line","strokeWidth":2,"clip":true},
   "encoding":{
    "x":{"field":"f","type":"quantitative","axis":{"orient":"top","labels":false,"values":[0,1,2,3,4,5],"title":null}},
    "y":{"field":"v","type":"quantitative","axis":{"orient":"right","labels":false,"values":[0,2,4,6],"title":null}},
    "color":{"field":"s","type":"nominal"},
    "strokeDash":{"field":"s","type":"nominal"}
   }}
 ],
 "resolve":{"axis":{"x":"independent","y":"independent"}}
},
{"width":474,"height":93,
 "title":{"text":"FRF Phase","offset":-6,"baseline":"alphabetic","frame":"group"},
 "layer":[
  {"data":{"values":[{"p":90},{"p":0},{"p":-90}]},"mark":{"type":"rule","color":"#e8302a","strokeWidth":1,"strokeDash":[2,4]},"encoding":{"y":{"field":"p","type":"quantitative","axis":null}}},
  {"data":{"name":"wp"},"transform":[{"fold":["k","r","g","m"],"as":["s","v"]}],"mark":{"type":"line","strokeWidth":1,"clip":true},
   "encoding":{
    "x":{"field":"f","type":"quantitative","scale":{"domain":[0,5],"nice":false},"axis":{"values":[0,1,2,3,4,5],"title":null}},
    "y":{"field":"v","type":"quantitative","scale":{"domain":[-180,180],"nice":false},"axis":{"values":[-180,-90,0,90,180],"title":null}},
    "color":{"field":"s","type":"nominal"},
    "strokeDash":{"field":"s","type":"nominal"}
   }},
  {"data":{"name":"wp"},"transform":[{"fold":["u"],"as":["s","v"]}],"mark":{"type":"line","strokeWidth":2,"clip":true},
   "encoding":{
    "x":{"field":"f","type":"quantitative","axis":{"orient":"top","labels":false,"values":[0,1,2,3,4,5],"title":null}},
    "y":{"field":"v","type":"quantitative","axis":{"orient":"right","labels":false,"values":[-180,-90,0,90,180],"title":null}},
    "color":{"field":"s","type":"nominal"},
    "strokeDash":{"field":"s","type":"nominal"}
   }}
 ],
 "resolve":{"axis":{"x":"independent","y":"independent"}}
},
{"width":476,"height":93,
 "layer":[
  {"data":{"values":[{"f":0.313}]},"mark":{"type":"rule","color":"#000","strokeWidth":1},"encoding":{"x":{"field":"f","type":"quantitative","axis":null}}},
  {"data":{"values":[{"f":1.109}]},"mark":{"type":"rule","color":"#000","strokeWidth":1,"strokeDash":[16,6]},"encoding":{"x":{"field":"f","type":"quantitative","axis":null}}},
  {"data":{"name":"pg"},"transform":[{"fold":["k","r","g","m"],"as":["s","v"]}],"mark":{"type":"line","strokeWidth":1,"clip":true},
   "encoding":{
    "x":{"field":"f","type":"quantitative","scale":{"domain":[0,5],"nice":false},"axis":{"values":[0,1,2,3,4,5],"title":null}},
    "y":{"field":"v","type":"quantitative","scale":{"domain":[0,6],"nice":false},"axis":{"values":[0,2,4,6],"title":["Pink","Noise"]}},
    "color":{"field":"s","type":"nominal"},
    "strokeDash":{"field":"s","type":"nominal"}
   }},
  {"data":{"name":"pg"},"transform":[{"fold":["u"],"as":["s","v"]}],"mark":{"type":"line","strokeWidth":2,"clip":true},
   "encoding":{
    "x":{"field":"f","type":"quantitative","axis":{"orient":"top","labels":false,"values":[0,1,2,3,4,5],"title":null}},
    "y":{"field":"v","type":"quantitative","axis":{"orient":"right","labels":false,"values":[0,2,4,6],"title":null}},
    "color":{"field":"s","type":"nominal"},
    "strokeDash":{"field":"s","type":"nominal"}
   }}
 ],
 "resolve":{"axis":{"x":"independent","y":"independent"}}
},
{"width":474,"height":93,
 "layer":[
  {"data":{"values":[{"p":90},{"p":0},{"p":-90}]},"mark":{"type":"rule","color":"#e8302a","strokeWidth":1,"strokeDash":[2,4]},"encoding":{"y":{"field":"p","type":"quantitative","axis":null}}},
  {"data":{"name":"pp"},"transform":[{"fold":["k","r","g","m"],"as":["s","v"]}],"mark":{"type":"line","strokeWidth":1,"clip":true},
   "encoding":{
    "x":{"field":"f","type":"quantitative","scale":{"domain":[0,5],"nice":false},"axis":{"values":[0,1,2,3,4,5],"title":null}},
    "y":{"field":"v","type":"quantitative","scale":{"domain":[-180,180],"nice":false},"axis":{"values":[-180,-90,0,90,180],"title":null}},
    "color":{"field":"s","type":"nominal"},
    "strokeDash":{"field":"s","type":"nominal"}
   }},
  {"data":{"name":"pp"},"transform":[{"fold":["u"],"as":["s","v"]}],"mark":{"type":"line","strokeWidth":2,"clip":true},
   "encoding":{
    "x":{"field":"f","type":"quantitative","axis":{"orient":"top","labels":false,"values":[0,1,2,3,4,5],"title":null}},
    "y":{"field":"v","type":"quantitative","axis":{"orient":"right","labels":false,"values":[-180,-90,0,90,180],"title":null}},
    "color":{"field":"s","type":"nominal"},
    "strokeDash":{"field":"s","type":"nominal"}
   }}
 ],
 "resolve":{"axis":{"x":"independent","y":"independent"}}
},
{"width":476,"height":93,
 "layer":[
  {"data":{"values":[{"f":0.197}]},"mark":{"type":"rule","color":"#000","strokeWidth":1},"encoding":{"x":{"field":"f","type":"quantitative","axis":null}}},
  {"data":{"name":"sg"},"transform":[{"fold":["k","r","g","m"],"as":["s","v"]}],"mark":{"type":"line","strokeWidth":1,"clip":true},
   "encoding":{
    "x":{"field":"f","type":"quantitative","scale":{"domain":[0,5],"nice":false},"axis":{"values":[0,1,2,3,4,5],"title":"Frequency (Hz)"}},
    "y":{"field":"v","type":"quantitative","scale":{"domain":[0,6],"nice":false},"axis":{"values":[0,2,4,6],"title":["Sine","Wave"]}},
    "color":{"field":"s","type":"nominal"},
    "strokeDash":{"field":"s","type":"nominal"}
   }},
  {"data":{"name":"sg"},"transform":[{"fold":["u"],"as":["s","v"]}],"mark":{"type":"line","strokeWidth":2,"clip":true},
   "encoding":{
    "x":{"field":"f","type":"quantitative","axis":{"orient":"top","labels":false,"values":[0,1,2,3,4,5],"title":null}},
    "y":{"field":"v","type":"quantitative","axis":{"orient":"right","labels":false,"values":[0,2,4,6],"title":null}},
    "color":{"field":"s","type":"nominal"},
    "strokeDash":{"field":"s","type":"nominal"}
   }}
 ],
 "resolve":{"axis":{"x":"independent","y":"independent"}}
},
{"width":474,"height":93,
 "layer":[
  {"data":{"values":[{"p":90},{"p":0},{"p":-90}]},"mark":{"type":"rule","color":"#e8302a","strokeWidth":1,"strokeDash":[2,4]},"encoding":{"y":{"field":"p","type":"quantitative","axis":null}}},
  {"data":{"name":"sp"},"transform":[{"fold":["k","r","g","m"],"as":["s","v"]}],"mark":{"type":"line","strokeWidth":1,"clip":true},
   "encoding":{
    "x":{"field":"f","type":"quantitative","scale":{"domain":[0,5],"nice":false},"axis":{"values":[0,1,2,3,4,5],"title":"Frequency (Hz)"}},
    "y":{"field":"v","type":"quantitative","scale":{"domain":[-180,180],"nice":false},"axis":{"values":[-180,-90,0,90,180],"title":null}},
    "color":{"field":"s","type":"nominal"},
    "strokeDash":{"field":"s","type":"nominal"}
   }},
  {"data":{"name":"sp"},"transform":[{"fold":["u"],"as":["s","v"]}],"mark":{"type":"line","strokeWidth":2,"clip":true},
   "encoding":{
    "x":{"field":"f","type":"quantitative","axis":{"orient":"top","labels":false,"values":[0,1,2,3,4,5],"title":null}},
    "y":{"field":"v","type":"quantitative","axis":{"orient":"right","labels":false,"values":[-180,-90,0,90,180],"title":null}},
    "color":{"field":"s","type":"nominal"},
    "strokeDash":{"field":"s","type":"nominal"}
   }}
 ],
 "resolve":{"axis":{"x":"independent","y":"independent"}}
}
],
"columns":2,
"spacing":{"row":44,"column":94},
"bounds":"flush"
}
